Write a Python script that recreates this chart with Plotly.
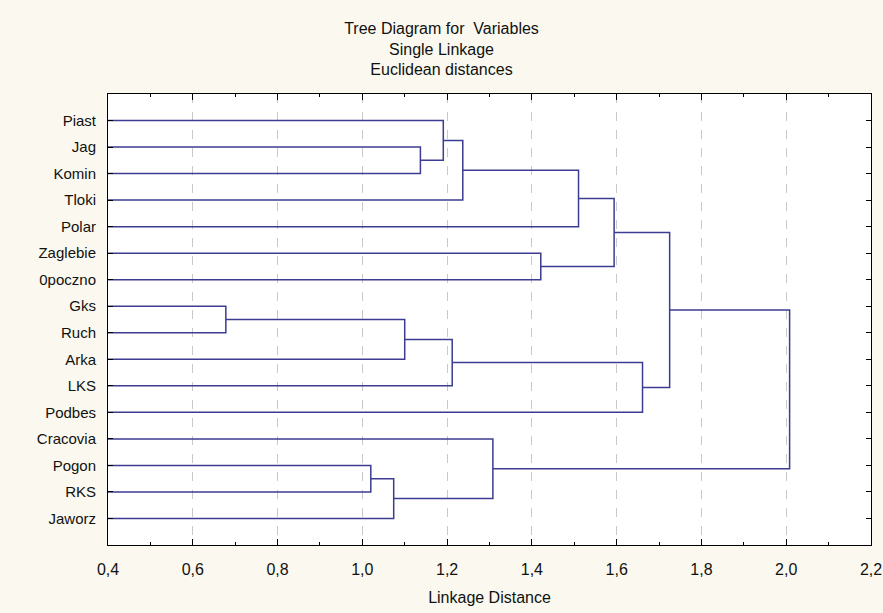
import plotly.graph_objects as go

# ---- data ----
leaves = ["Piast", "Jag", "Komin", "Tloki", "Polar", "Zaglebie", "0poczno", "Gks",
          "Ruch", "Arka", "LKS", "Podbes", "Cracovia", "Pogon", "RKS", "Jaworz"]
# merges: (left member, right member, linkage distance); members are leaf names or node ids "N#"
merges = [
    ("Gks", "Ruch", 0.678),        # N1
    ("Pogon", "RKS", 1.020),       # N2
    ("N2", "Jaworz", 1.074),       # N3
    ("N1", "Arka", 1.100),         # N4
    ("Jag", "Komin", 1.137),       # N5
    ("Piast", "N5", 1.191),        # N6
    ("N4", "LKS", 1.212),          # N7
    ("N6", "Tloki", 1.237),        # N8
    ("N3", "Cracovia", 1.308),     # N9
    ("Zaglebie", "0poczno", 1.421),# N10
    ("N8", "Polar", 1.510),        # N11
    ("N11", "N10", 1.594),         # N12
    ("N7", "Podbes", 1.661),       # N13
    ("N12", "N13", 1.725),         # N14
    ("N14", "N9", 2.008),          # N15
]
tick_vals = [0.4, 0.6, 0.8, 1.0, 1.2, 1.4, 1.6, 1.8, 2.0, 2.2]
tick_text = ["0,4", "0,6", "0,8", "1,0", "1,2", "1,4", "1,6", "1,8", "2,0", "2,2"]

# ---- build dendrogram segments ----
pos = {name: (i + 1, 0.0) for i, name in enumerate(leaves)}  # (y, x-height)
xs, ys = [], []
for k, (a, b, h) in enumerate(merges, start=1):
    ya, ha = pos[a]
    yb, hb = pos[b]
    xs += [ha, h, h, hb, None]
    ys += [ya, ya, yb, yb, None]
    pos["N%d" % k] = ((ya + yb) / 2.0, h)

# leaves start at the left edge of the axis
xmin = tick_vals[0]
xs = [xmin if (v is not None and v == 0.0) else v for v in xs]

line_color = "#3C3C92"
fig = go.Figure()
fig.add_trace(go.Scatter(x=xs, y=ys, mode="lines",
                         line=dict(color=line_color, width=1.5),
                         hoverinfo="skip", showlegend=False, cliponaxis=False))

font_main = "Liberation Sans Narrow, Arial Narrow, Liberation Sans, Arial, sans-serif"
font_lab = "Liberation Sans, Arial, sans-serif"

fig.update_layout(
    width=883, height=613,
    paper_bgcolor="#FBF9EF", plot_bgcolor="#FFFFFF",
    margin=dict(l=108, r=12, t=94, b=68),
    title=dict(text="Tree Diagram for  Variables<br>Single Linkage<br>Euclidean distances",
               x=0.5, xanchor="center", y=0.945, yanchor="top",
               font=dict(family=font_main, size=16, color="#111111")),
    showlegend=False,
)
fig.update_xaxes(
    range=[0.4, 2.2], tickvals=tick_vals, ticktext=tick_text, automargin=False,
    ticklabeloverflow="allow",
    showline=True, linecolor="#000000", linewidth=1, mirror="ticks",
    ticks="inside", ticklen=6, tickcolor="#000000", ticklabelstandoff=10,
    minor=dict(ticks="inside", ticklen=3, dtick=0.1, tick0=0.4, tickcolor="#000000", showgrid=False),
    showgrid=True, gridcolor="#C8C8C8", griddash="dash", gridwidth=1,
    zeroline=False,
    tickfont=dict(family=font_main, size=16, color="#111111"),
    title=dict(text="Linkage Distance", standoff=14,
               font=dict(family=font_main, size=16, color="#111111")),
)
fig.update_yaxes(
    range=[17, 0], tickvals=list(range(1, len(leaves) + 1)), ticktext=leaves, automargin=False,
    showline=True, linecolor="#000000", linewidth=1, mirror="ticks",
    ticks="inside", ticklen=5, tickcolor="#000000", ticklabelstandoff=8,
    showgrid=False, zeroline=False,
    tickfont=dict(family=font_lab, size=15, color="#111111"),
)

fig.write_html("out.html")
